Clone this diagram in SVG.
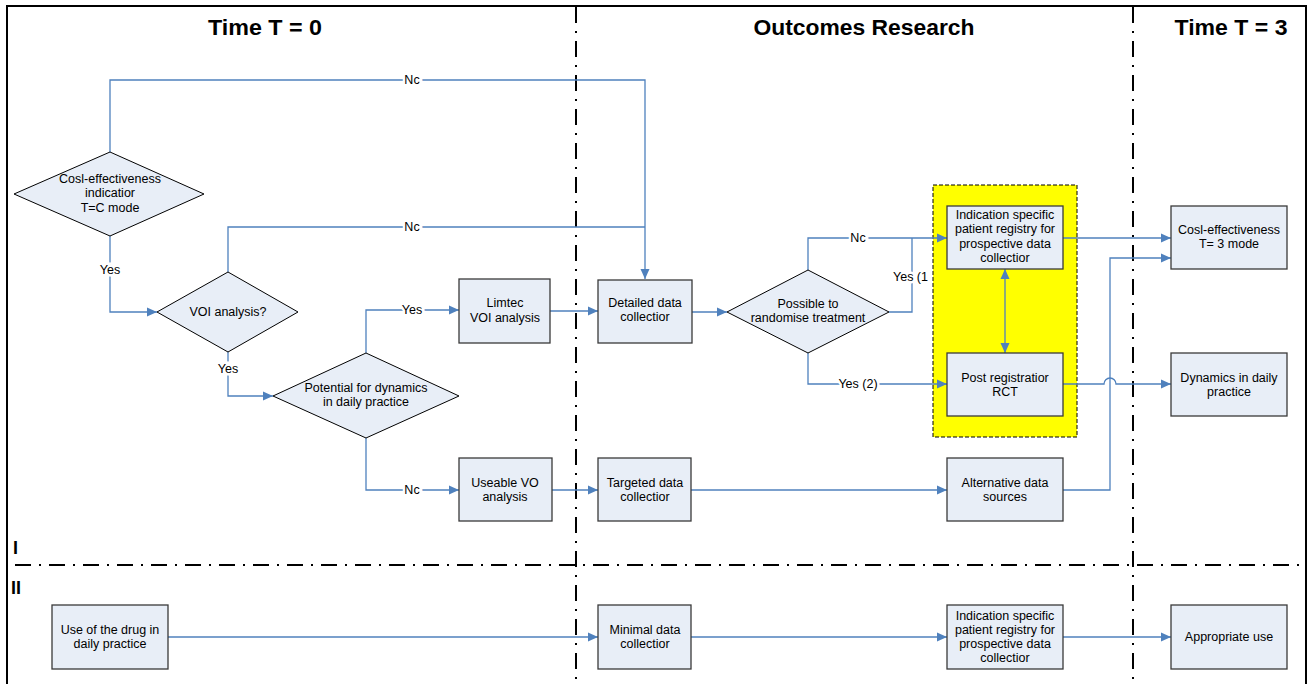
<svg xmlns="http://www.w3.org/2000/svg" width="1313" height="684" viewBox="0 0 1313 684">
<style>
.bg{fill:#ffffff}
.frame{fill:none;stroke:#000;stroke-width:2}
.dd{fill:none;stroke:#000;stroke-width:2;stroke-dasharray:16 8 2 8}
.title{font-family:"Liberation Sans",Arial,sans-serif;font-weight:bold;font-size:22.5px;fill:#000;text-anchor:middle}
.lane{font-family:"Liberation Sans",Arial,sans-serif;font-weight:bold;font-size:18px;fill:#000}
.box{fill:#E8EEF7;stroke:#3a3a3a;stroke-width:1.3}
.dia{fill:#E8EEF7;stroke:#000;stroke-width:1}
.t{font-family:"Liberation Sans",Arial,sans-serif;font-size:12.5px;fill:#000;text-anchor:middle}
.c{fill:none;stroke:#4F81BD;stroke-width:1.3}
.lbl{font-family:"Liberation Sans",Arial,sans-serif;font-size:12.5px;fill:#000;text-anchor:middle;paint-order:stroke;stroke:#fff;stroke-width:5px}
.yel{fill:#FFFF00;stroke:#000;stroke-width:1;stroke-dasharray:4 2}
</style>
<defs>
<marker id="ah" viewBox="0 0 10 10" refX="10" refY="5" markerWidth="10" markerHeight="10" markerUnits="userSpaceOnUse" orient="auto">
<path d="M0,0.5 L10,5 L0,9.5 Z" fill="#4F81BD"/>
</marker>
<marker id="as" viewBox="0 0 10 10" refX="10" refY="5" markerWidth="10" markerHeight="10" markerUnits="userSpaceOnUse" orient="auto-start-reverse">
<path d="M0,0.5 L10,5 L0,9.5 Z" fill="#4F81BD"/>
</marker>
</defs>
<rect class="bg" x="0" y="0" width="1313" height="684"/>
<g id="frame">
<rect class="frame" x="7" y="6" width="1299" height="700"/>
<line class="dd" x1="576" y1="7" x2="576" y2="684"/>
<line class="dd" x1="1133" y1="7" x2="1133" y2="684"/>
<line class="dd" x1="15" y1="565" x2="1306" y2="565"/>
<text class="title" x="265" y="35" textLength="114" lengthAdjust="spacingAndGlyphs">Time T = 0</text>
<text class="title" x="864" y="35" textLength="221" lengthAdjust="spacingAndGlyphs">Outcomes Research</text>
<text class="title" x="1231" y="35" textLength="113" lengthAdjust="spacingAndGlyphs">Time T = 3</text>
<text class="lane" x="13" y="554">I</text>
<text class="lane" x="11" y="594">II</text>
</g>
<g id="group-yellow">
<rect class="yel" x="933" y="185" width="144" height="252"/>
</g>
<g id="connectors">
<polyline class="c" points="110,152 110,80 645,80 645,279" marker-end="url(#ah)"/>
<polyline class="c" points="228,272 228,227 645,227"/>
<polyline class="c" points="110,236 110,312 157,312" marker-end="url(#ah)"/>
<polyline class="c" points="228,352 228,396 273,396" marker-end="url(#ah)"/>
<polyline class="c" points="366,353 366,310 459,310" marker-end="url(#ah)"/>
<polyline class="c" points="366,438 366,490 459,490" marker-end="url(#ah)"/>
<line class="c" x1="550" y1="311" x2="598" y2="311" marker-end="url(#ah)"/>
<line class="c" x1="692" y1="312" x2="727" y2="312" marker-end="url(#ah)"/>
<line class="c" x1="552" y1="490" x2="598" y2="490" marker-end="url(#ah)"/>
<line class="c" x1="691" y1="490" x2="947" y2="490" marker-end="url(#ah)"/>
<polyline class="c" points="808,270 808,238 947,238" marker-end="url(#ah)"/>
<polyline class="c" points="889,312 912,312 912,238"/>
<polyline class="c" points="808,353 808,384 947,384" marker-end="url(#ah)"/>
<line class="c" x1="1005" y1="269" x2="1005" y2="353" marker-start="url(#as)" marker-end="url(#ah)"/>
<line class="c" x1="1063" y1="238" x2="1171" y2="238" marker-end="url(#ah)"/>
<path class="c" d="M1063,384 H1104 A6,6 0 0 1 1116,384 H1171" marker-end="url(#ah)"/>
<polyline class="c" points="1063,490 1110,490 1110,258 1171,258" marker-end="url(#ah)"/>
<line class="c" x1="168" y1="637" x2="598" y2="637" marker-end="url(#ah)"/>
<line class="c" x1="691" y1="637" x2="947" y2="637" marker-end="url(#ah)"/>
<line class="c" x1="1063" y1="637" x2="1171" y2="637" marker-end="url(#ah)"/>
<text class="lbl" x="412" y="84">Nc</text>
<text class="lbl" x="412" y="231">Nc</text>
<text class="lbl" x="110" y="274">Yes</text>
<text class="lbl" x="228" y="373">Yes</text>
<text class="lbl" x="412" y="314">Yes</text>
<text class="lbl" x="412" y="494">Nc</text>
<text class="lbl" x="858" y="242">Nc</text>
<text class="lbl" x="893" y="281" style="text-anchor:start">Yes (1</text>
<text class="lbl" x="858" y="388">Yes (2)</text>
</g>
<g id="n-cost0">
<polygon class="dia" points="110,152 204,194 110,236 14,194"/>
<text class="t" x="110" y="183">Cosl-effectiveness</text>
<text class="t" x="110" y="197">indicatior</text>
<text class="t" x="110" y="212">T=C mode</text>
</g>
<g id="n-voi">
<polygon class="dia" points="228,272 298,312 228,352 157,312"/>
<text class="t" x="228" y="316">VOI analysis?</text>
</g>
<g id="n-potential">
<polygon class="dia" points="366,353 459,396 366,438 273,396"/>
<text class="t" x="366" y="392">Potential for dynamics</text>
<text class="t" x="366" y="406">in daily practice</text>
</g>
<g id="n-limited">
<rect class="box" x="459" y="279" width="91" height="64"/>
<text class="t" x="505" y="307">Limtec</text>
<text class="t" x="505" y="322">VOI analysis</text>
</g>
<g id="n-useable">
<rect class="box" x="459" y="458" width="93" height="63"/>
<text class="t" x="505" y="487">Useable VO</text>
<text class="t" x="505" y="501">analysis</text>
</g>
<g id="n-detailed">
<rect class="box" x="598" y="280" width="94" height="63"/>
<text class="t" x="645" y="307">Detailed data</text>
<text class="t" x="645" y="321">collectior</text>
</g>
<g id="n-targeted">
<rect class="box" x="598" y="458" width="93" height="63"/>
<text class="t" x="645" y="487">Targeted data</text>
<text class="t" x="645" y="501">collectior</text>
</g>
<g id="n-possible">
<polygon class="dia" points="808,270 889,312 808,353 727,312"/>
<text class="t" x="808" y="308">Possible to</text>
<text class="t" x="808" y="322">randomise treatment</text>
</g>
<g id="n-indication">
<rect class="box" x="947" y="206" width="116" height="63"/>
<text class="t" x="1005" y="219">Indication specific</text>
<text class="t" x="1005" y="233">patient registry for</text>
<text class="t" x="1005" y="248">prospective data</text>
<text class="t" x="1005" y="262">collectior</text>
</g>
<g id="n-postreg">
<rect class="box" x="947" y="353" width="116" height="63"/>
<text class="t" x="1005" y="382">Post registratior</text>
<text class="t" x="1005" y="396">RCT</text>
</g>
<g id="n-alternative">
<rect class="box" x="947" y="458" width="116" height="63"/>
<text class="t" x="1005" y="487">Alternative data</text>
<text class="t" x="1005" y="501">sources</text>
</g>
<g id="n-cost3">
<rect class="box" x="1171" y="206" width="116" height="63"/>
<text class="t" x="1229" y="234">Cosl-effectiveness</text>
<text class="t" x="1229" y="248">T= 3 mode</text>
</g>
<g id="n-dynamics">
<rect class="box" x="1171" y="353" width="116" height="63"/>
<text class="t" x="1229" y="382">Dynamics in daily</text>
<text class="t" x="1229" y="396">practice</text>
</g>
<g id="n-usedrug">
<rect class="box" x="52" y="605" width="116" height="64"/>
<text class="t" x="110" y="634">Use of the drug in</text>
<text class="t" x="110" y="648">daily practice</text>
</g>
<g id="n-minimal">
<rect class="box" x="598" y="605" width="93" height="64"/>
<text class="t" x="645" y="634">Minimal data</text>
<text class="t" x="645" y="648">collectior</text>
</g>
<g id="n-indication2">
<rect class="box" x="947" y="605" width="116" height="64"/>
<text class="t" x="1005" y="620">Indication specific</text>
<text class="t" x="1005" y="634">patient registry for</text>
<text class="t" x="1005" y="648">prospective data</text>
<text class="t" x="1005" y="662">collectior</text>
</g>
<g id="n-appropriate">
<rect class="box" x="1171" y="605" width="116" height="64"/>
<text class="t" x="1229" y="641">Appropriate use</text>
</g>
</svg>
